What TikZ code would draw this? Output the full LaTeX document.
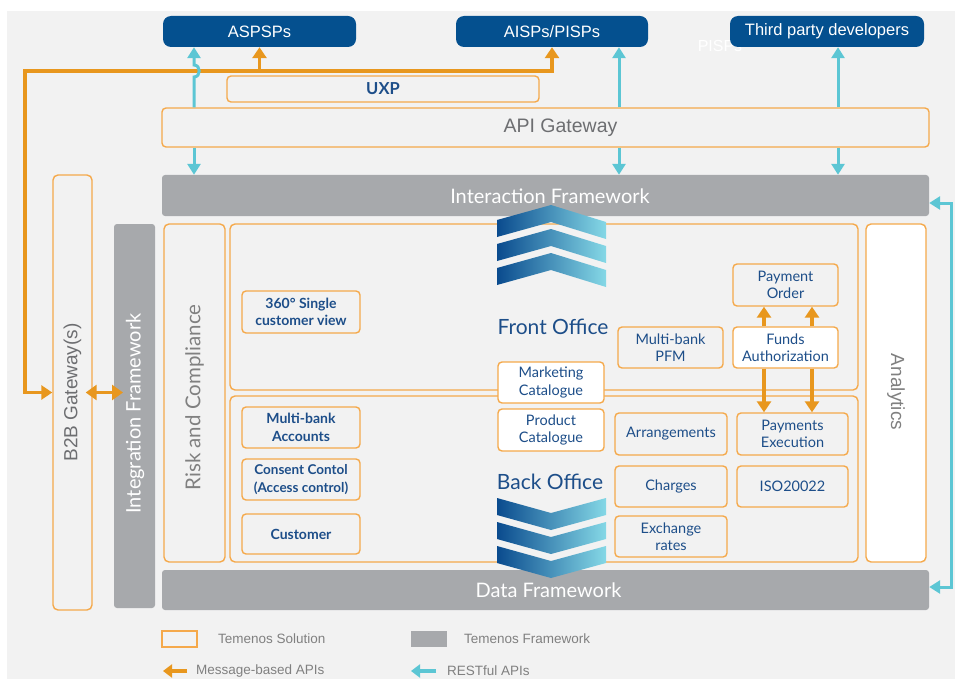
\documentclass[tikz,border=0pt]{standalone}
\usepackage{fontspec}
\setmainfont{Liberation Sans}
\newfontfamily\lato{Lato}
\usetikzlibrary{arrows.meta,calc}

\definecolor{bgc}{HTML}{F2F2F2}
\definecolor{navy}{HTML}{04508F}
\definecolor{tblue}{HTML}{1D4E89}
\definecolor{orl}{HTML}{F5A94B}
\definecolor{ora}{HTML}{E8971E}
\definecolor{cya}{HTML}{5CC6D4}
\definecolor{fw}{HTML}{A7A9AC}
\definecolor{gtxt}{HTML}{6D6E71}
\definecolor{ltxt}{HTML}{808080}
\definecolor{chd}{HTML}{0A4B8E}
\definecolor{chm}{HTML}{2A7DB3}
\definecolor{chl}{HTML}{85D8E6}

\newcommand\boxfnt{\lato\fontsize{14.5}{17.5}\selectfont}
\newcommand\boxfntb{\lato\bfseries\fontsize{14}{17.5}\selectfont}
\newcommand\fwfnt{\lato\fontsize{20}{23}\selectfont}

\tikzset{
  sz/.style 2 args={minimum width=#1pt, minimum height=#2pt},
  topbox/.style={fill=navy, rounded corners=8pt, text=white, inner sep=0pt,
    font=\fontsize{16.5}{19}\selectfont},
  solbox/.style={draw=orl, line width=1.4pt, rounded corners=4pt, fill=bgc,
    text=tblue, align=center, inner sep=0pt, font=\boxfnt},
  solboxb/.style={solbox, font=\boxfntb},
  whitebox/.style={solbox, fill=white},
  region/.style={draw=orl, line width=1.4pt, rounded corners=5pt, inner sep=0pt},
  fwbar/.style={fill=fw, rounded corners=3pt, text=white, inner sep=0pt},
  msg/.style={draw=ora, line width=3.5pt, -{Triangle[width=14pt,length=11pt]}},
  msgd/.style={msg, {Triangle[width=14pt,length=11pt]}-{Triangle[width=14pt,length=11pt]}},
  rest/.style={draw=cya, line width=3pt, -{Triangle[width=13pt,length=11pt]}},
  restd/.style={rest, {Triangle[width=13pt,length=11pt]}-{Triangle[width=13pt,length=11pt]}},
  legtxt/.style={anchor=west, text=ltxt, font=\fontsize{13.5}{16}\selectfont, inner sep=0pt},
}

\begin{document}
\begin{tikzpicture}[x=1pt, y=-1pt]
  \useasboundingbox (0,0) rectangle (955,679);
  \fill[bgc] (7,11) rectangle (955,679);

  % faint label behind the developer box
  \node[text=white, font=\fontsize{16}{19}\selectfont] (pisp) at (720,46) {PISPs};

  % external parties
  \node[topbox, sz={193}{31}] (aspsp) at (259.5,31.5) {ASPSPs};
  \node[topbox, sz={192}{31}] (aisp) at (552,31.5) {AISPs/PISPs};
  \node[topbox, sz={194}{31}] (tpd) at (827,31.5) {Third party developers};

  % gateway layers
  \node[solbox, sz={312}{26}, font=\lato\bfseries\fontsize{16.5}{19}\selectfont] (uxp) at (383,89) {UXP};
  \node[solbox, sz={767}{39}] (gw) at (545.5,127.5) {};
  \node[text=gtxt, font=\fontsize{19.5}{22}\selectfont] (gwt) at (560.5,128) {API Gateway};
  \node[fwbar, sz={767}{41}] (ifw) at (545.5,195.5) {};
  \node[text=white, font=\fwfnt] (ifwt) at (550,196) {Interaction Framework};

  % side columns
  \node[region, sz={39}{435}] (b2b) at (72.5,392.5) {};
  \node[rotate=90, text=gtxt, font=\fontsize{19}{22}\selectfont] (b2bt) at (72.5,392.5) {B2B Gateway(s)};
  \node[fwbar, sz={41}{384}] (intf) at (134.5,416) {};
  \node[rotate=90, text=white, font=\fwfnt] (intft) at (135,413.5) {Integration Framework};
  \node[region, sz={61}{338}] (risk) at (194.5,393) {};
  \node[rotate=90, text=ltxt, font=\lato\fontsize{20.5}{23}\selectfont] (riskt) at (194.5,397.5) {Risk and Compliance};
  \node[region, sz={60}{338}, fill=white] (ana) at (896,393) {};
  \node[rotate=-90, text=ltxt, font=\fontsize{19}{22}\selectfont] (anat) at (896,392) {Analytics};

  % office regions
  \node[region, sz={628}{166}] (fo) at (544,307) {};
  \node[region, sz={628}{166}] (bo) at (544,479) {};
  \node[fwbar, sz={767}{40}] (dfw) at (545.5,590) {};
  \node[text=white, font=\fwfnt] (dfwt) at (548.5,590) {Data Framework};

  % chevrons
  \shade[left color=chd, middle color=chm, right color=chl]
    (497,220) -- (551,205) -- (606,222) -- (606,239) -- (551,222) -- (497,237) -- cycle
    (497,244) -- (551,229) -- (606,246) -- (606,263) -- (551,246) -- (497,261) -- cycle
    (497,268) -- (551,253) -- (606,270) -- (606,287) -- (551,270) -- (497,285) -- cycle;
  \shade[left color=chd, middle color=chm, right color=chl]
    (497,498) -- (551,513) -- (606,498) -- (606,515) -- (551,530) -- (497,515) -- cycle
    (497,522) -- (551,537) -- (606,522) -- (606,539) -- (551,554) -- (497,539) -- cycle
    (497,546) -- (551,561) -- (606,546) -- (606,563) -- (551,578) -- (497,563) -- cycle;

  \node[text=tblue, font=\lato\fontsize{21}{24}\selectfont] (fot) at (553,327) {Front Office};
  \node[text=tblue, font=\lato\fontsize{21}{24}\selectfont] (bot) at (550,482) {Back Office};

  % components
  \node[solboxb, sz={118}{42}] (sv) at (301,312) {360° Single\\customer view};
  \node[solboxb, sz={118}{41}] (mba) at (301,427.5) {Multi-bank\\Accounts};
  \node[solboxb, sz={118}{41}, font=\lato\bfseries\fontsize{13.5}{17.5}\selectfont] (cc) at (301,479.5) {Consent Contol\\(Access control)};
  \node[solboxb, sz={118}{40}] (cust) at (301,534) {Customer};
  \node[whitebox, sz={106}{41}] (mkt) at (551,382.5) {Marketing\\Catalogue};
  \node[whitebox, sz={106}{42}] (prod) at (551,430) {Product\\Catalogue};
  \node[solbox, sz={105}{41}] (pfm) at (670.5,347.5) {Multi-bank\\PFM};
  \node[solbox, sz={105}{42}] (po) at (785.5,285) {Payment\\Order};
  \node[whitebox, sz={105}{41}] (fa) at (785.5,347.5) {Funds\\Authorization};
  \node[solbox, sz={112}{42}] (arr) at (671,434) {Arrangements};
  \node[solbox, sz={111}{42}] (pe) at (792.5,434) {Payments\\Execution};
  \node[solbox, sz={112}{41}] (chg) at (671,486.5) {Charges};
  \node[solbox, sz={111}{41}] (iso) at (792.5,486.5) {ISO20022};
  \node[solbox, sz={112}{41}] (exr) at (671,536.5) {Exchange\\rates};

  % column positions of the vertical links
  \coordinate (xa) at (194,0);
  \coordinate (xb) at (619,0);
  \coordinate (xc) at (838,0);
  \coordinate (xp) at (764,0);
  \coordinate (xq) at (812,0);
  \coordinate (lc) at (25,71);

  % message-based links
  \draw[msgd] (aisp.south) |- (lc) |- (b2b.west);
  \draw[msg] (aspsp.south |- lc) -- (aspsp.south);
  \coordinate (bl) at ($(b2b.east)+(-7,0)$);
  \coordinate (br) at (123,0);
  \draw[draw=ora, line width=3.5pt, {Triangle[width=15pt,length=11pt]}-{Triangle[width=15pt,length=11pt]}] (bl) -- (br |- bl);
  \draw[msg] (fa.north -| xp) -- (po.south -| xp);
  \draw[msg] (fa.north -| xq) -- (po.south -| xq);
  \draw[msg] (fa.south -| xp) -- (pe.north -| xp);
  \draw[msg] (fa.south -| xq) -- (pe.north -| xq);

  % RESTful links
  \draw[rest] (gw.north -| xa) -- (194,77) .. controls (201,77) and (201,65) .. (194,65) -- (aspsp.south -| xa);
  \draw[rest] (gw.south -| xa) -- (ifw.north -| xa);
  \draw[rest] (gw.north -| xb) -- (aisp.south -| xb);
  \draw[rest] (gw.south -| xb) -- (ifw.north -| xb);
  \draw[rest] (gw.north -| xc) -- (tpd.south -| xc);
  \draw[rest] (gw.south -| xc) -- (ifw.north -| xc);
  \coordinate (r1) at (951,203);
  \coordinate (r2) at (951,587);
  \draw[restd] (ifw.east |- r1) -- (r1) -- (r2) -- (dfw.east |- r2);

  % legend
  \node[draw=orl, line width=1.4pt, sz={35}{16}, inner sep=0pt] (lsol) at (179.5,639) {};
  \node[legtxt] (lsolt) at (218,639) {Temenos Solution};
  \node[fill=fw, sz={36}{16}, inner sep=0pt] (lfw) at (429,639) {};
  \node[legtxt] (lfwt) at (464,639) {Temenos Framework};
  \coordinate (m1) at (187,671);
  \coordinate (m0) at (163,671);
  \draw[draw=ora, line width=4pt, -{Triangle[width=13pt,length=9pt]}] (m1) -- (m0);
  \node[legtxt] (lmsg) at (196,671) {Message-based APIs};
  \coordinate (c1) at (436,671);
  \coordinate (c0) at (411,671);
  \draw[draw=cya, line width=4pt, -{Triangle[width=13pt,length=9pt]}] (c1) -- (c0);
  \node[legtxt] (lrest) at (447,671) {RESTful APIs};
\end{tikzpicture}
\end{document}
